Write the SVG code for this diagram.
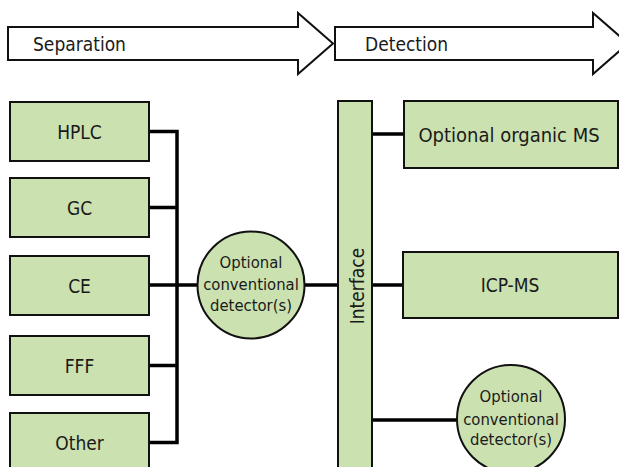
<svg xmlns="http://www.w3.org/2000/svg" width="619" height="467" viewBox="0 0 619 467">
  <style>
    text { font-family: "DejaVu Sans Condensed", "DejaVu Sans", "Liberation Sans", sans-serif; font-stretch: condensed; fill: #1a1a1a; }
    .lbl { font-size: 19px; text-anchor: middle; }
    .wide { font-size: 20px; }
    .stage { font-size: 19px; }
    .small { font-size: 16.5px; text-anchor: middle; }
    .box { fill: #cbe1b0; stroke: #111; stroke-width: 2; }
    .arrow { fill: #fff; stroke: #111; stroke-width: 2; stroke-linejoin: miter; }
    .wire { fill: none; stroke: #000; stroke-width: 3.5; }
  </style>

  <!-- stage arrows -->
  <g id="stage-separation">
    <path class="arrow" d="M8,27 H298 V13 L333,43.5 L298,74 V60 H8 Z"/>
    <text class="stage" x="33" y="51">Separation</text>
  </g>
  <g id="stage-detection">
    <path class="arrow" d="M335,27 H593 V13 L628,43.5 L593,74 V60 H335 Z"/>
    <text class="stage" x="365" y="51">Detection</text>
  </g>

  <!-- connectors -->
  <g id="connectors">
    <path class="wire" d="M149,131.5 H177 M149,207.5 H177 M149,285 H197.5 M149,365.5 H177 M149,442.5 H177 M177,129.8 V444.2"/>
    <path class="wire" d="M304.5,285 H338"/>
    <path class="wire" d="M372,134 H404 M372,285 H403 M372,420 H457"/>
  </g>

  <!-- separation techniques -->
  <g id="hplc">
    <rect class="box" x="10" y="102" width="139" height="59"/>
    <text class="lbl" x="79.5" y="138.5">HPLC</text>
  </g>
  <g id="gc">
    <rect class="box" x="10" y="178" width="139" height="59"/>
    <text class="lbl" x="79.5" y="214.5">GC</text>
  </g>
  <g id="ce">
    <rect class="box" x="10" y="256" width="139" height="59"/>
    <text class="lbl" x="79.5" y="292.5">CE</text>
  </g>
  <g id="fff">
    <rect class="box" x="10" y="336" width="139" height="59"/>
    <text class="lbl" x="79.5" y="372.5">FFF</text>
  </g>
  <g id="other">
    <rect class="box" x="10" y="413" width="139" height="59"/>
    <text class="lbl" x="79.5" y="449.5">Other</text>
  </g>

  <!-- detector between separation and interface -->
  <g id="detector-pre">
    <circle class="box" cx="251" cy="285" r="53.5"/>
    <text class="small" x="251" y="268">Optional</text>
    <text class="small" x="251" y="290">conventional</text>
    <text class="small" x="251" y="311">detector(s)</text>
  </g>

  <!-- interface bar -->
  <g id="interface">
    <rect class="box" x="338" y="101" width="34" height="372"/>
    <text class="lbl" transform="translate(364,286) rotate(-90)">Interface</text>
  </g>

  <!-- detectors -->
  <g id="organic-ms">
    <rect class="box" x="404" y="101" width="214" height="67"/>
    <text class="lbl wide" x="509" y="141.5">Optional organic MS</text>
  </g>
  <g id="icp-ms">
    <rect class="box" x="403" y="252" width="215" height="66"/>
    <text class="lbl" x="510" y="292">ICP-MS</text>
  </g>
  <g id="detector-post">
    <circle class="box" cx="511" cy="419" r="54"/>
    <text class="small" x="511" y="402">Optional</text>
    <text class="small" x="511" y="425">conventional</text>
    <text class="small" x="511" y="445">detector(s)</text>
  </g>
</svg>
